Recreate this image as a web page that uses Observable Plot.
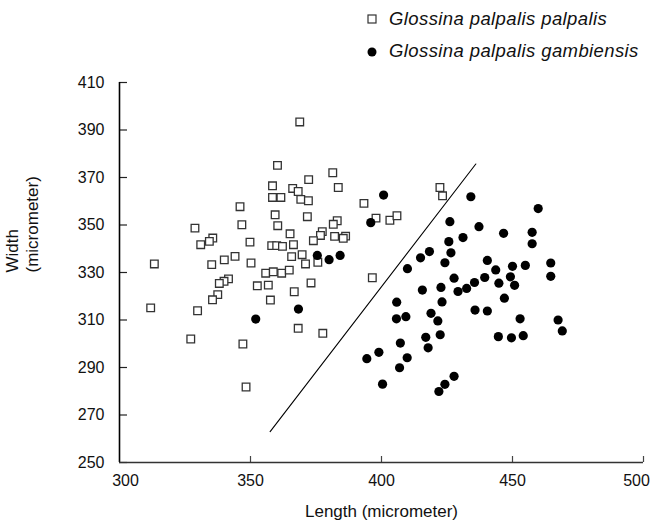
<!DOCTYPE html>
<html><head><meta charset="utf-8">
<script src="https://cdn.jsdelivr.net/npm/d3@7"></script>
<script src="https://cdn.jsdelivr.net/npm/@observablehq/plot@0.6"></script>
<style>
body{margin:0;background:#fff;}
#wrap{position:relative;width:653px;height:526px;font-family:"Liberation Sans",Arial,sans-serif;}
#legend{position:absolute;left:366px;top:3px;font-style:italic;font-size:18.5px;letter-spacing:0.4px;color:#111;line-height:32px;}
#legend div{display:flex;align-items:center;white-space:nowrap;}
#legend svg{margin-right:11px;}
</style></head><body>
<div id="wrap"><div id="chart"></div><div id="legend"></div></div>
<script>
// Glossina palpalis palpalis (open squares)
const palpalisLength=[368.8,360.3,381.4,372.2,358.4,366.1,368.2,383.5,358.4,361.6,369.2,372.1,393.3,359.4,371.7,383.1,381.6,397.9,403.2,405.9,360.4,365.1,377.4,376.7,374.0,382.1,386.3,385.4,349.8,358.1,360.0,362.2,366.4,422.3,423.3,346.0,346.7,328.8,335.6,334.3,331.0,369.7,365.7,371.0,375.7,313.3,335.2,340.0,344.1,350.2,355.8,358.7,361.9,364.8,352.6,356.8,366.7,373.1,357.6,396.5,368.2,377.6,311.9,329.8,327.2,347.1,348.3,341.6,339.9,338.1,337.5,335.5];
const palpalisWidth=[393.4,375.1,372.0,369.1,366.5,365.4,364.1,365.8,361.6,361.6,360.8,360.2,359.1,354.3,353.5,351.8,350.3,352.9,352.0,353.9,349.7,346.3,347.2,345.6,343.4,345.2,345.3,344.4,342.8,341.3,341.3,341.0,341.7,365.8,362.3,357.7,350.1,348.7,344.5,343.1,341.7,337.5,336.7,333.6,334.3,333.6,333.3,335.3,336.8,334.0,329.7,330.3,329.7,331.0,324.4,324.7,321.9,325.6,318.4,327.8,306.5,304.4,315.1,313.9,302.0,299.9,281.8,327.3,326.3,325.4,320.7,318.5];
// Glossina palpalis gambiensis (filled circles)
const gambiensisLength=[352.0,368.3,375.5,380.0,384.2,395.9,400.8,434.1,426.1,437.2,431.1,425.7,426.5,418.3,414.9,424.2,409.9,427.7,440.4,443.6,439.4,435.5,432.5,429.2,422.7,415.6,444.8,405.8,423.1,435.7,440.4,418.9,405.7,409.3,421.5,416.9,422.4,444.6,417.8,407.2,399.0,409.8,394.4,406.9,427.7,424.2,421.9,400.4,446.6,457.5,457.5,459.8,450.0,454.9,464.6,464.6,449.2,450.8,446.9,452.9,467.4,469.0,449.6,454.1];
const gambiensisWidth=[310.4,314.6,337.2,335.4,337.2,351.0,362.6,361.9,351.4,349.3,344.7,343.0,338.3,338.8,336.2,334.1,331.6,327.6,335.1,331.1,327.9,325.8,323.3,322.0,323.7,322.6,325.5,317.5,317.6,314.2,313.8,312.8,310.5,311.4,309.6,302.7,303.8,303.0,298.3,300.3,296.4,294.1,293.7,289.9,286.3,282.9,279.9,283.0,346.5,346.9,342.1,356.9,332.6,333.0,334.0,328.4,328.2,324.6,319.2,310.5,310.0,305.4,302.5,303.4];
// discriminant line
const boundaryLength=[357.5,436.0];
const boundaryWidth=[263.0,375.7];
const xTicks=[300,350,400,450,500];
const yTicks=[250,270,290,310,330,350,370,390,410];
const speciesNames=["Glossina palpalis palpalis","Glossina palpalis gambiensis"];
const xTitle="Length (micrometer)";
const yTitle="Width\n(micrometer)";

const palpalis=palpalisLength.map((x,i)=>({x,y:palpalisWidth[i]}));
const gambiensis=gambiensisLength.map((x,i)=>({x,y:gambiensisWidth[i]}));
const boundary=boundaryLength.map((x,i)=>({x,y:boundaryWidth[i]}));

const W=653,H=526,mL=119,mR=10,mT=82,mB=64;
const fw=W-mL-mR, fh=H-mT-mB;
const font="'Liberation Sans', Arial, sans-serif";

const chart=Plot.plot({
  width:W,height:H,marginLeft:mL,marginRight:mR,marginTop:mT,marginBottom:mB,
  x:{domain:[300,500]},
  y:{domain:[250,410]},
  style:{fontFamily:font,fontSize:"16px",color:"#111",background:"#fff"},
  marks:[
    Plot.axisY(yTicks,{tickSize:0,tickPadding:15,fontSize:16,label:null}),
    Plot.axisX(xTicks.slice(1,4),{tickSize:0,tickPadding:12,fontSize:16,label:null}),
    Plot.axisX([xTicks[0]],{tickSize:0,tickPadding:12,fontSize:16,label:null,dx:6}),
    Plot.axisX([xTicks[4]],{tickSize:0,tickPadding:12,fontSize:16,label:null,dx:-7}),
    Plot.tickY(yTicks,{y:d=>d,insetRight:fw-8,stroke:"#222",strokeWidth:1.2}),
    Plot.tickX(xTicks.slice(1),{x:d=>d,insetTop:fh-6,stroke:"#444",strokeWidth:1.2}),
    Plot.ruleX([300],{stroke:"#000",strokeWidth:1.6}),
    Plot.ruleY([250],{stroke:"#333",strokeWidth:1.6}),
    Plot.line(boundary,{x:"x",y:"y",stroke:"#000",strokeWidth:1.1}),
    Plot.dot(palpalis,{x:"x",y:"y",symbol:"square",r:4.3,stroke:"#333",strokeWidth:1.3,fill:"white"}),
    Plot.dot(gambiensis,{x:"x",y:"y",r:4.6,fill:"#000",stroke:"none"}),
    Plot.text([yTitle],{text:d=>d,frameAnchor:"left",rotate:-90,dx:-98,fontSize:17,lineHeight:1.2,fill:"#111"}),
    Plot.text([xTitle],{text:d=>d,frameAnchor:"bottom",dy:54,fontSize:17,fill:"#111"})
  ]
});
document.getElementById("chart").appendChild(chart);

const legend=document.getElementById("legend");
const sq='<svg width="12" height="12"><rect x="2" y="2" width="8" height="8" fill="white" stroke="#333" stroke-width="1.2"/></svg>';
const ci='<svg width="12" height="12"><circle cx="6" cy="7" r="4.5" fill="#000"/></svg>';
legend.innerHTML=`<div>${sq}<span>${speciesNames[0]}</span></div><div>${ci}<span>${speciesNames[1]}</span></div>`;
</script>
</body></html>
